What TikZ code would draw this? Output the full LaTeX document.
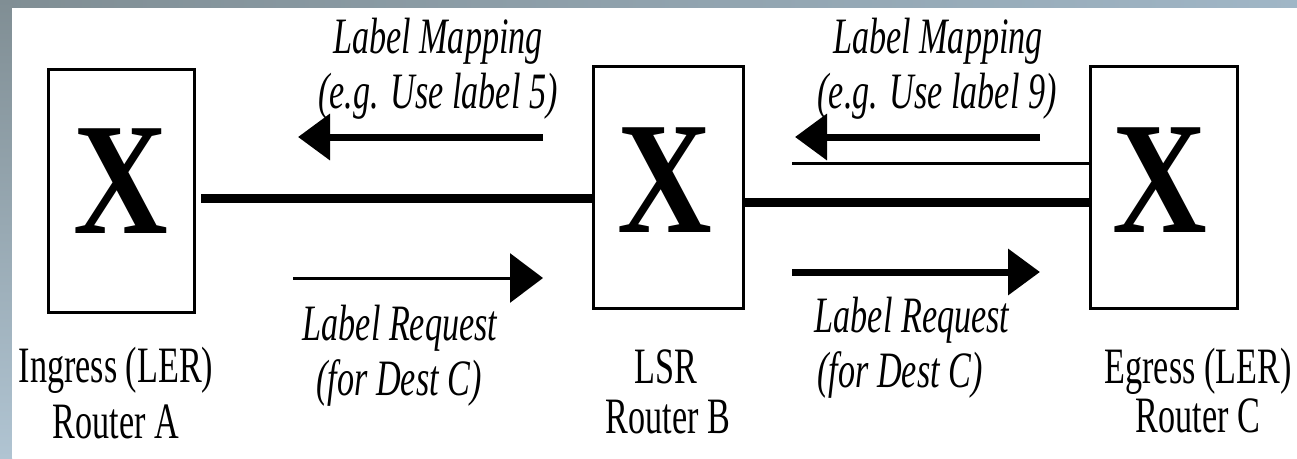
\documentclass[tikz,border=0pt]{standalone}
\usepackage{fontspec}
\usetikzlibrary{arrows.meta}
\newfontfamily\labfont[FakeStretch=0.67]{Liberation Serif}
\newfontfamily\xfont[FakeStretch=0.82]{Liberation Serif}
\definecolor{bgtop}{RGB}{128,142,148}
\definecolor{bgright}{RGB}{160,182,198}
\definecolor{bgbottom}{RGB}{176,196,210}
\begin{document}
\begin{tikzpicture}[x=1pt,y=-1pt,
  router/.style={draw=black,line width=3pt,fill=white,inner sep=0pt},
  xmark/.style={font=\xfont\bfseries\fontsize{160}{160}\selectfont,inner sep=0pt,anchor=base},
  rtext/.style={font=\labfont\fontsize{51}{53}\selectfont,inner sep=0pt,anchor=base},
  itext/.style={font=\labfont\itshape\fontsize{51}{53}\selectfont,inner sep=0pt,anchor=base},
  mainline/.style={line width=9pt},
  thinline/.style={line width=3pt},
  bigarrow/.style={line width=7pt,-{Triangle[length=32pt,width=45pt]}},
  smallarrow/.style={line width=3pt,-{Triangle[length=33pt,width=49pt]}}]
\useasboundingbox (0,0) rectangle (1297,458);
% background frame
\shade[left color=bgtop,right color=bgright] (0,0) rectangle (1297,8);
\shade[top color=bgtop,bottom color=bgbottom] (0,0) rectangle (12,458);
\fill[white] (12,8) rectangle (1297,458);
% routers
\node[router,minimum width=146pt,minimum height=243pt] (boxA) at (121,190.5) {};
\node[router,minimum width=150pt,minimum height=242pt] (boxB) at (668,187) {};
\node[router,minimum width=147pt,minimum height=242pt] (boxC) at (1163.5,187) {};
\node[xmark] (xA) at (121,233) {X};
\node[xmark] (xB) at (665,232) {X};
\node[xmark] (xC) at (1160,232) {X};
% router captions
\node[rtext] (capA1) at (116,382) {Ingress (LER)};
\node[rtext] (capA2) at (116,438) {Router A};
\node[rtext] (capB1) at (666,383) {LSR};
\node[rtext] (capB2) at (668,433) {Router B};
\node[rtext] (capC1) at (1198,383) {Egress (LER)};
\node[rtext] (capC2) at (1198,432) {Router C};
% message labels
\node[itext] (mapL1) at (438,53) {Label Mapping};
\node[itext] (mapL2) at (438,108) {(e.g. Use label 5)};
\node[itext] (mapR1) at (938,53) {Label Mapping};
\node[itext] (mapR2) at (937,108) {(e.g. Use label 9)};
\node[itext] (reqL1) at (400,340) {Label Request};
\node[itext] (reqL2) at (399,395) {(for Dest C)};
\node[itext] (reqR1) at (912,332) {Label Request};
\node[itext] (reqR2) at (900,387) {(for Dest C)};
% links
\coordinate (ab) at (201,198);
\coordinate (bc) at (743,202);
\coordinate (cm) at (792,163);
\draw[mainline] (ab) -- (ab -| boxB.west);
\draw[mainline] (bc) -- (bc -| boxC.west);
\draw[thinline] (cm) -- (cm -| boxC.west);
% signalling arrows
\coordinate (m1s) at (543,137);
\coordinate (m1e) at (298,137);
\coordinate (m2s) at (1040,137);
\coordinate (m2e) at (795,137);
\coordinate (r1s) at (293,278);
\coordinate (r1e) at (543,278);
\coordinate (r2s) at (792,272);
\coordinate (r2e) at (1040,272);
\draw[bigarrow] (m1s) -- (m1e);
\draw[bigarrow] (m2s) -- (m2e);
\draw[smallarrow] (r1s) -- (r1e);
\draw[bigarrow] (r2s) -- (r2e);
\end{tikzpicture}
\end{document}
